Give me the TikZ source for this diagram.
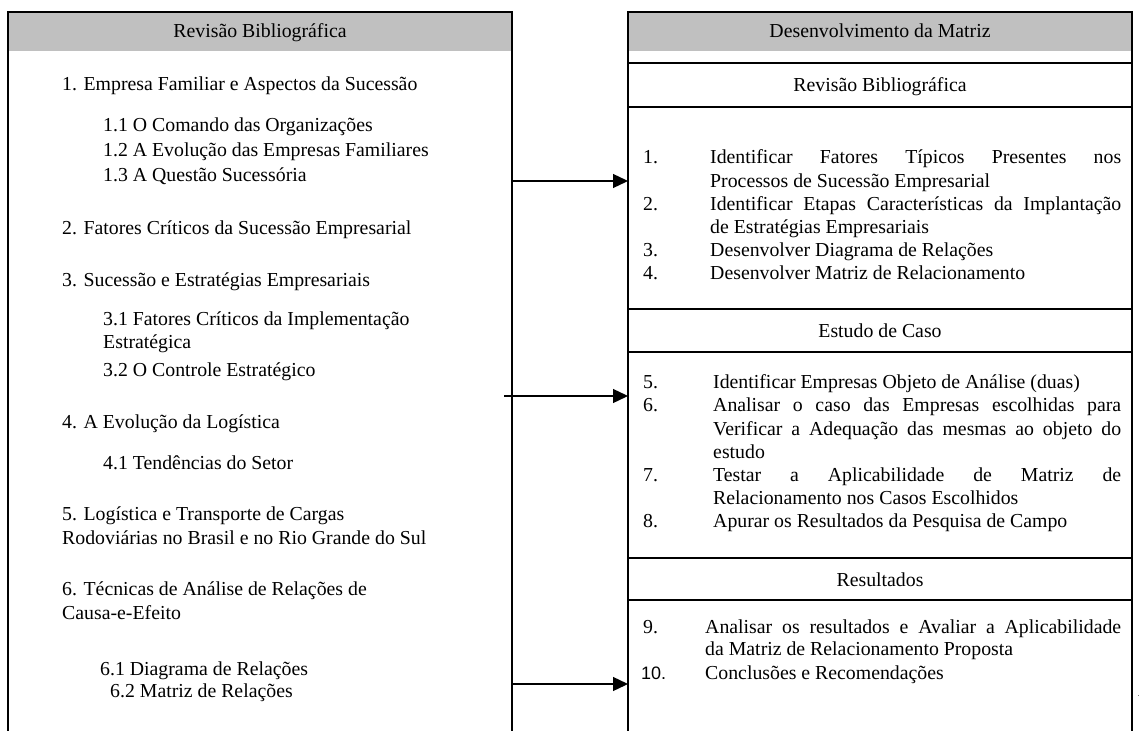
\documentclass[tikz,border=0pt]{standalone}
\usepackage{fontspec}
\setmainfont{Liberation Serif}
\newfontfamily\arialf{Liberation Sans}
\usetikzlibrary{arrows.meta}
\definecolor{hdrgray}{HTML}{C0C0C0}
\newcommand{\fs}{\fontsize{19.8}{23}\selectfont}
\newcommand{\jl}[2]{\makebox[#1][s]{#2}}
\tikzset{
  txt/.style={anchor=base west, inner sep=0pt, font=\fs},
  ctxt/.style={anchor=base, inner sep=0pt, font=\fs},
  boxline/.style={line width=1.5pt, line cap=rect},
  arr/.style={line width=1.3pt, -{Triangle[length=15pt,width=14pt]}}
}
\begin{document}
\begin{tikzpicture}[x=1pt,y=-1pt]
\useasboundingbox (0,0) rectangle (1139,730);
% left box
\fill[hdrgray] (8,12) rectangle (512,51);
\draw[boxline] (8,735) -- (8,12) -- (512,12) -- (512,735);
% right box
\fill[hdrgray] (628,12) rectangle (1132,51);
\draw[boxline] (628,735) -- (628,12) -- (1132,12) -- (1132,735);
\foreach \yy in {63,107,309,352,558,600} \draw[boxline] (628,\yy) -- (1132,\yy);
% headers
\node[ctxt] (lh) at (260,38) {Revisão Bibliográfica};
\node[ctxt] (rh) at (880,38) {Desenvolvimento da Matriz};
\node[ctxt] (rs1) at (880,92) {Revisão Bibliográfica};
\node[ctxt] (rs2) at (880,337) {Estudo de Caso};
\node[ctxt] (rs3) at (880,586) {Resultados};
% left items
\node[txt] (l1) at (62,91) {1. Empresa Familiar e Aspectos da Sucessão};
\node[txt] (l11) at (103,132) {1.1 O Comando das Organizações};
\node[txt] (l12) at (103,157) {1.2 A Evolução das Empresas Familiares};
\node[txt] (l13) at (103,182) {1.3 A Questão Sucessória};
\node[txt] (l2) at (62,234) {2. Fatores Críticos da Sucessão Empresarial};
\node[txt] (l3) at (62,286) {3. Sucessão e Estratégias Empresariais};
\node[txt] (l31) at (103,325) {3.1 Fatores Críticos da Implementação};
\node[txt] (l31b) at (103,348) {Estratégica};
\node[txt] (l32) at (103,376) {3.2 O Controle Estratégico};
\node[txt] (l4) at (62,428) {4. A Evolução da Logística};
\node[txt] (l41) at (103,469) {4.1 Tendências do Setor};
\node[txt] (l5) at (62,520) {5. Logística e Transporte de Cargas};
\node[txt] (l5b) at (62,544) {Rodoviárias no Brasil e no Rio Grande do Sul};
\node[txt] (l6) at (62,595) {6. Técnicas de Análise de Relações de};
\node[txt] (l6b) at (62,619) {Causa-e-Efeito};
\node[txt] (l61) at (100,675) {6.1 Diagrama de Relações};
\node[txt] (l62) at (110,697) {6.2 Matriz de Relações};
% right items
\node[txt] (n1) at (643,164) {1.};
\node[txt] (r1) at (710,164) {\jl{411pt}{Identificar Fatores Típicos Presentes nos}};
\node[txt] (r1b) at (710,187) {Processos de Sucessão Empresarial};
\node[txt] (n2) at (643,210) {2.};
\node[txt] (r2) at (710,210) {\jl{411pt}{Identificar Etapas Características da Implantação}};
\node[txt] (r2b) at (710,233) {de Estratégias Empresariais};
\node[txt] (n3) at (643,256) {3.};
\node[txt] (r3) at (710,256) {Desenvolver Diagrama de Relações};
\node[txt] (n4) at (643,279) {4.};
\node[txt] (r4) at (710,279) {Desenvolver Matriz de Relacionamento};
\node[txt] (n5) at (643,388) {5.};
\node[txt] (r5) at (713,388) {Identificar Empresas Objeto de Análise (duas)};
\node[txt] (n6) at (643,411) {6.};
\node[txt] (r6) at (713,411) {\jl{408pt}{Analisar o caso das Empresas escolhidas para}};
\node[txt] (r6b) at (713,435) {\jl{408pt}{Verificar a Adequação das mesmas ao objeto do}};
\node[txt] (r6c) at (713,458) {estudo};
\node[txt] (n7) at (643,481) {7.};
\node[txt] (r7) at (713,481) {\jl{408pt}{Testar a Aplicabilidade de Matriz de}};
\node[txt] (r7b) at (713,504) {Relacionamento nos Casos Escolhidos};
\node[txt] (n8) at (643,527) {8.};
\node[txt] (r8) at (713,527) {Apurar os Resultados da Pesquisa de Campo};
\node[txt] (n9) at (643,633) {9.};
\node[txt] (r9) at (705,633) {\jl{416pt}{Analisar os resultados e Avaliar a Aplicabilidade}};
\node[txt] (r9b) at (705,655) {da Matriz de Relacionamento Proposta};
\node[txt, font={\arialf\fontsize{18}{23}\selectfont}] (n10) at (641,679) {10.};
\node[txt] (r10) at (705,679) {Conclusões e Recomendações};
% arrows
\coordinate (a1s) at (512,181); \coordinate (a1e) at (628,181);
\coordinate (a2s) at (504,396); \coordinate (a2e) at (628,396);
\coordinate (a3s) at (512,684); \coordinate (a3e) at (628,684);
\draw[arr] (a1s) -- (a1e);
\draw[arr] (a2s) -- (a2e);
\draw[arr] (a3s) -- (a3e);
% stray mark
\fill[gray] (1137.5,694.5) rectangle (1139,696);
\end{tikzpicture}
\end{document}
